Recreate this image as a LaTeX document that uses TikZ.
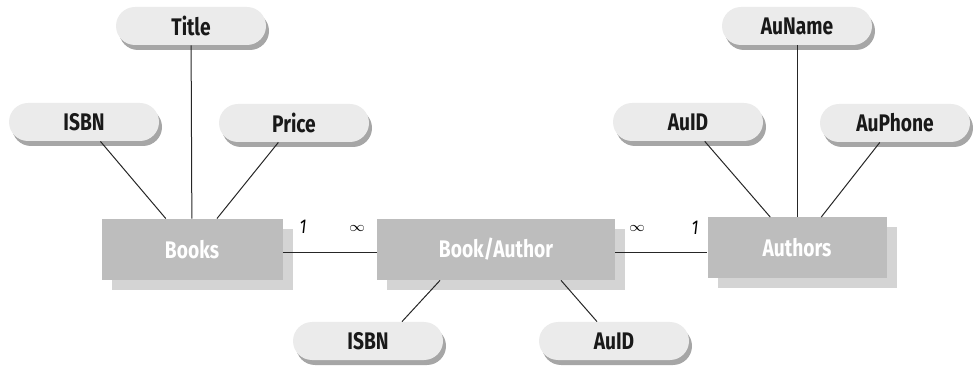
\documentclass[tikz,border=0pt]{standalone}
\usepackage{fontspec}
\setmainfont{Fira Sans}[FakeStretch=0.8]
\usetikzlibrary{shadows}
\definecolor{entityfill}{HTML}{BDBDBD}
\definecolor{entityshadow}{HTML}{D4D4D4}
\definecolor{attrfill}{HTML}{EBEBEB}
\definecolor{attrshadow}{HTML}{A6A6A6}
\begin{document}
\begin{tikzpicture}
[x=0.5pt,y=-0.5pt,
  attrdecorate/.style={shape=rectangle,rounded corners=9.5pt,fill=attrfill,
    minimum width=75pt,minimum height=19pt,inner sep=0pt,
    font=\bfseries\fontsize{12}{12}\selectfont,text=black!90,
    drop shadow={shadow xshift=1.5pt,shadow yshift=-2.5pt,fill=attrshadow,opacity=1}},%
  entitydecorate/.style={shape=rectangle,fill=entityfill,
    minimum height=30.5pt,inner sep=0pt,
    font=\bfseries\fontsize{12}{12}\selectfont,text=white,
    drop shadow={shadow xshift=5pt,shadow yshift=-5pt,fill=entityshadow,opacity=1}},%
  multdecorate/.style={inner sep=0pt,font=\itshape\fontsize{10}{10}\selectfont},%
  linedecorate/.style={-,line width=0.5pt,draw=black!85}]
\useasboundingbox (0,0) rectangle (973,368);
%% entities
\foreach \nodename/\x/\y/\boxwidth/\txt in {
  books/192/249.5/90.5pt/Books, bookauthor/496/249.5/119pt/{Book/Author},
  authors/797/248/89.5pt/Authors}
{
  \node (\nodename) at (\x,\y) [entitydecorate,minimum width=\boxwidth] {\txt};
}
%% attributes
\foreach \nodename/\x/\y/\txt in {
  isbn/84/122/ISBN, title/191/26/Title, price/294/123/Price,
  auid/688/122/AuID, auname/797/26/AuName, auphone/895/123/AuPhone,
  baisbn/368/341/ISBN, baauid/614/341/AuID}
{
  \node (\nodename) at (\x,\y) [attrdecorate] {\txt};
}
%% cardinalities
\node (m1) at (303,227) [multdecorate] {1};
\node (m2) at (357,228) [multdecorate] {$\scriptstyle\infty$};
\node (m3) at (637,228) [multdecorate] {$\scriptstyle\infty$};
\node (m4) at (695,228) [multdecorate] {1};
%% edges or lines
\path
\foreach \startnode/\endnode in {isbn/books, title/books, price/books,
  auid/authors, auname/authors, auphone/authors} {
  (\startnode) edge[linedecorate] (\endnode)
};
\draw[linedecorate] ([yshift=-1.75pt]books.east) -- ([yshift=-1.75pt]bookauthor.west);
\draw[linedecorate] ([yshift=-1.75pt]bookauthor.east) -- ([yshift=-2.5pt]authors.west);
\draw[linedecorate] ([xshift=-28pt]bookauthor.south) -- ([xshift=17pt]baisbn.north);
\draw[linedecorate] ([xshift=32.5pt]bookauthor.south) -- ([xshift=-8.5pt]baauid.north);
\end{tikzpicture}
\end{document}
